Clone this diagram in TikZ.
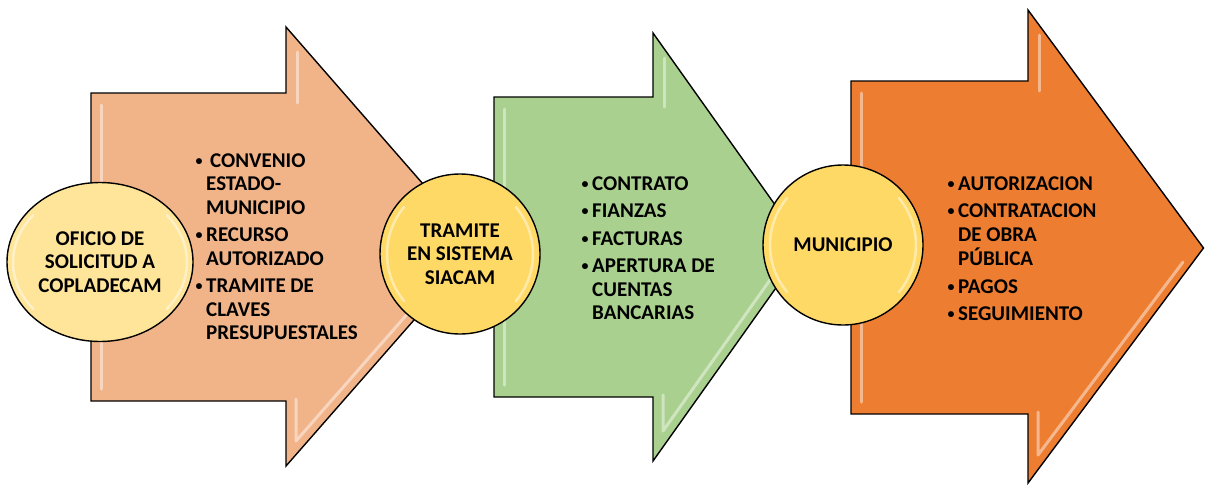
\documentclass[tikz,border=0pt]{standalone}
\usepackage{fontspec}
\setmainfont{Carlito}
\usetikzlibrary{shapes.geometric}
\definecolor{salmon}{RGB}{241,180,137}
\definecolor{leaf}{RGB}{169,208,142}
\definecolor{pumpkin}{RGB}{237,125,49}
\definecolor{paleyellow}{RGB}{255,229,153}
\definecolor{gold}{RGB}{255,217,102}
\newcommand{\itembullet}{\makebox[9pt][l]{\hspace{-1.5pt}\raisebox{1.8pt}{\fontsize{14}{14}\selectfont\textbullet}}}

\begin{document}
\begin{tikzpicture}[x=1pt, y=-1pt,
  arrowbox/.style={draw=black, line width=1.4pt, line join=miter},
  bevel/.style={white, opacity=0.45, line width=3pt, line cap=round, line join=round},
  ring/.style={white, opacity=0.45, line width=2.5pt, line cap=round},
  stage/.style={draw=black, line width=1.4pt, inner sep=0pt, align=center, font=\fontsize{21}{23.5}\selectfont\bfseries},
  items/.style={inner sep=0pt, anchor=base west, font=\fontsize{21}{23.5}\selectfont\bfseries}]
\useasboundingbox (0,0) rectangle (1206,485);

% arrows
\draw[arrowbox, fill=salmon] (91,93) -- (286,93) -- (286,27) -- (478,247) -- (286,466) -- (286,401) -- (91,401) -- cycle;
\draw[bevel] (101,105) -- (101,389);
\draw[bevel] (297,52) -- (297,103);
\draw[bevel] (296,399) -- (296,441) -- (452,263);

\draw[arrowbox, fill=leaf] (494,97) -- (653,97) -- (653,33) -- (805,247) -- (653,461) -- (653,397) -- (494,397) -- cycle;
\draw[bevel] (504,109) -- (504,385);
\draw[bevel] (664,58) -- (664,107);
\draw[bevel] (663,395) -- (663,431) -- (782,263);

\draw[arrowbox, fill=pumpkin] (851,81) -- (1028,81) -- (1028,10) -- (1203.5,248) -- (1028,483) -- (1028,414) -- (851,414) -- cycle;
\draw[bevel] (861,93) -- (861,402);
\draw[bevel] (1039,35) -- (1039,91);
\draw[bevel] (1038,412) -- (1038,455) -- (1183,262);

% circles
\node (c1) at (100,262) [stage, ellipse, fill=paleyellow, minimum width=186, minimum height=159] {OFICIO DE\\SOLICITUD A\\COPLADECAM};
\node (c2) at (460,254) [stage, circle, fill=gold, minimum size=160] {TRAMITE\\EN SISTEMA\\SIACAM};
\node (c3) at (843,245) [stage, circle, fill=gold, minimum size=160] {MUNICIPIO};

\draw[ring] (c1.center) ++(140:87 and 73) arc[start angle=140, end angle=220, x radius=87, y radius=73];
\draw[ring] (c1.center) ++(-40:87 and 73) arc[start angle=-40, end angle=40, x radius=87, y radius=73];
\draw[ring] (c2.center) ++(140:73) arc[start angle=140, end angle=220, radius=73];
\draw[ring] (c2.center) ++(-40:73) arc[start angle=-40, end angle=40, radius=73];
\draw[ring] (c3.center) ++(140:73) arc[start angle=140, end angle=220, radius=73];
\draw[ring] (c3.center) ++(-40:73) arc[start angle=-40, end angle=40, radius=73];

% lists
\node[items] (l1) at (197,167) {\begin{tabular}[t]{@{}l@{}l@{}}
\itembullet & \hspace{4pt}CONVENIO\\
 & ESTADO-\\
 & MUNICIPIO\\[4pt]
\itembullet & RECURSO\\
 & AUTORIZADO\\[4pt]
\itembullet & TRAMITE DE\\
 & CLAVES\\
 & PRESUPUESTALES
\end{tabular}};

\node[items] (l2) at (583,190) {\begin{tabular}[t]{@{}l@{}l@{}}
\itembullet & CONTRATO\\[4pt]
\itembullet & FIANZAS\\[4pt]
\itembullet & FACTURAS\\[4pt]
\itembullet & APERTURA DE\\
 & CUENTAS\\
 & BANCARIAS
\end{tabular}};

\node[items] (l3) at (949,190) {\begin{tabular}[t]{@{}l@{}l@{}}
\itembullet & AUTORIZACION\\[4pt]
\itembullet & CONTRATACION\\
 & DE OBRA\\
 & PÚBLICA\\[4pt]
\itembullet & PAGOS\\[4pt]
\itembullet & SEGUIMIENTO
\end{tabular}};
\end{tikzpicture}
\end{document}
